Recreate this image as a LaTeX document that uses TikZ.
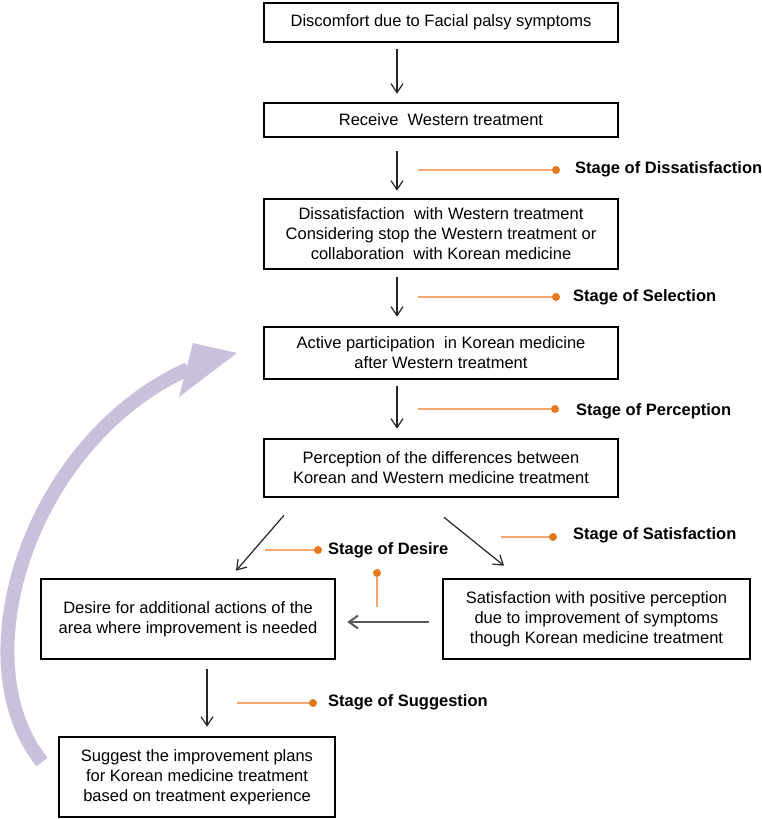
\documentclass[tikz,border=0pt]{standalone}
\usepackage{fontspec}
\setmainfont{Liberation Sans}
\usetikzlibrary{arrows.meta}
\definecolor{orline}{RGB}{244,166,110}
\definecolor{ordot}{RGB}{230,120,30}
\definecolor{purp}{RGB}{201,192,220}
\begin{document}
\begin{tikzpicture}[x=1pt,y=-1pt,
  box/.style={draw=black, line width=2.6pt, fill=white, align=center, inner sep=0pt,
    font=\fontsize{16.5}{20}\selectfont},
  flow/.style={draw=black!85, line width=1.2pt, -{Straight Barb[length=9pt,width=12pt]}},
  grayflow/.style={draw=black!65, line width=2pt, -{Straight Barb[length=9pt,width=13pt]}},
  stagelbl/.style={anchor=base west, font=\bfseries\fontsize{16.5}{18}\selectfont, inner sep=0pt},
  stageline/.style={draw=orline, line width=2pt},
  stagedot/.style={circle, fill=ordot, minimum size=8pt, inner sep=0pt}]
\useasboundingbox (0,0) rectangle (762,819);

% purple feedback arrow
\coordinate (pa) at (42,762);
\coordinate (pb) at (188,369);
\draw[draw=purp, line width=14pt] (pa) .. controls (-40,660) and (30,440) .. (pb);
\coordinate (t1) at (193,343);
\coordinate (t2) at (237,353);
\coordinate (t3) at (179,397);
\fill[purp] (t1) -- (t2) -- (t3) -- cycle;

% boxes
\node[box, minimum width=354pt, minimum height=39pt] (b1) at (441,22.5)
  {Discomfort due to Facial palsy symptoms};
\node[box, minimum width=354pt, minimum height=34pt] (b2) at (441,120)
  {Receive\ \ Western treatment};
\node[box, minimum width=354pt, minimum height=70pt] (b3) at (441,234)
  {Dissatisfaction\ \ with Western treatment\\Considering stop the Western treatment or\\collaboration\ \ with Korean medicine};
\node[box, minimum width=354pt, minimum height=52pt] (b4) at (441,353)
  {Active participation\ \ in Korean medicine\\after Western treatment};
\node[box, minimum width=354pt, minimum height=58pt] (b5) at (441,468)
  {Perception of the differences between\\Korean and Western medicine treatment};
\node[box, minimum width=294pt, minimum height=80pt] (b6) at (188,619)
  {Desire for additional actions of the\\area where improvement is needed};
\node[box, minimum width=307pt, minimum height=80pt] (b7) at (596.5,619)
  {Satisfaction with positive perception\\due to improvement of symptoms\\though Korean medicine treatment};
\node[box, minimum width=276pt, minimum height=80pt] (b8) at (197,777)
  {Suggest the improvement plans\\for Korean medicine treatment\\based on treatment experience};

% flow arrows
\draw[flow, shorten <=6pt, shorten >=8pt] ([xshift=-44pt]b1.south) -- ([xshift=-44pt]b2.north);
\draw[flow, shorten <=13pt, shorten >=7pt] ([xshift=-44pt]b2.south) -- ([xshift=-44pt]b3.north);
\draw[flow, shorten <=7pt, shorten >=9pt] ([xshift=-44pt]b3.south) -- ([xshift=-44pt]b4.north);
\draw[flow, shorten <=6pt, shorten >=9pt] ([xshift=-44pt]b4.south) -- ([xshift=-44pt]b5.north);
\draw[flow] ([shift={(-157,17)}]b5.south) -- ([shift={(48,-7)}]b6.north);
\draw[flow] ([shift={(3,19)}]b5.south) -- ([shift={(-92.5,-12)}]b7.north);
\draw[grayflow] ([shift={(-13,3)}]b7.west) -- ([shift={(11,3)}]b6.east);
\draw[flow] ([shift={(19,9)}]b6.south) -- ([shift={(10,-9)}]b8.north);

% stage markers
\coordinate (l1) at (418,170);
\node[stagedot] (d1) at (556,170) {};
\node[stagelbl] (s1) at (575,173) {Stage of Dissatisfaction};
\draw[stageline] (l1) -- (d1);

\coordinate (l2) at (418,297);
\node[stagedot] (d2) at (556,297) {};
\node[stagelbl] (s2) at (573,301) {Stage of Selection};
\draw[stageline] (l2) -- (d2);

\coordinate (l3) at (418,409);
\node[stagedot] (d3) at (555,409) {};
\node[stagelbl] (s3) at (576,415) {Stage of Perception};
\draw[stageline] (l3) -- (d3);

\coordinate (l4) at (501,537);
\node[stagedot] (d4) at (553,537) {};
\node[stagelbl] (s4) at (573,539) {Stage of Satisfaction};
\draw[stageline] (l4) -- (d4);

\coordinate (l5) at (265,550);
\node[stagedot] (d5) at (318,550) {};
\node[stagelbl] (s5) at (328,554) {Stage of Desire};
\draw[stageline] (l5) -- (d5);

\coordinate (l6) at (377,607);
\node[stagedot] (d6) at (377,573) {};
\draw[stageline] (l6) -- (d6);

\coordinate (l7) at (237,703);
\node[stagedot] (d7) at (313,703) {};
\node[stagelbl] (s7) at (328,706) {Stage of Suggestion};
\draw[stageline] (l7) -- (d7);
\end{tikzpicture}
\end{document}
